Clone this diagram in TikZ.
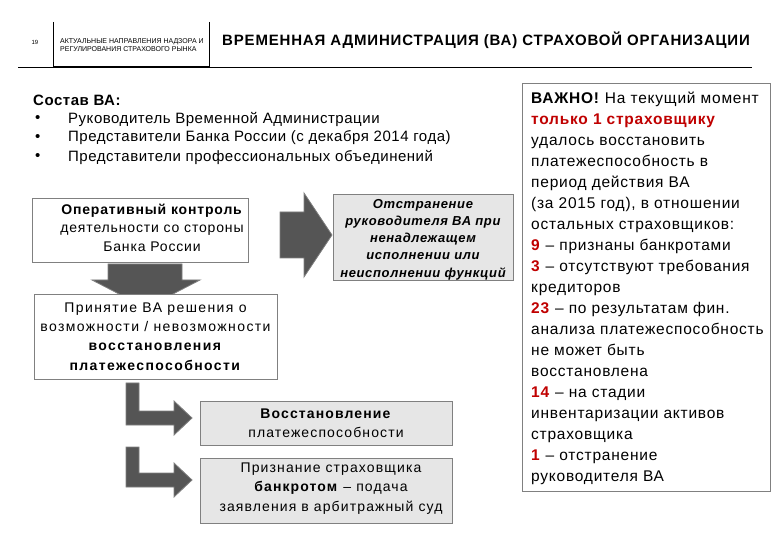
\documentclass[tikz,border=0pt]{standalone}
\usepackage{fontspec}
\setmainfont{Liberation Sans}
\definecolor{dred}{HTML}{C00000}
\definecolor{arrowfill}{HTML}{555555}
\definecolor{arrowline}{HTML}{808080}
\definecolor{boxgray}{HTML}{E6E6E6}
\definecolor{boxline}{HTML}{808080}
\newcommand{\fsz}[3]{\fontsize{#1}{#2}\selectfont\addfontfeature{LetterSpace=#3}}
\tikzset{
  wbox/.style={draw=boxline, line width=0.8pt, fill=white, inner sep=0pt, align=center},
  gbox/.style={draw=boxline, line width=0.8pt, fill=boxgray, inner sep=0pt, align=center},
  boxtext/.style={inner sep=0pt, align=center},
  blockarrow/.style={fill=arrowfill, draw=arrowline, line width=0.8pt},
  listtext/.style={anchor=west, inner sep=0pt, font=\fsz{15}{17}{3.5}},
}
\begin{document}
\begin{tikzpicture}[x=1pt,y=-1pt]
\useasboundingbox[fill=white] (0,0) rectangle (780,540);

% header
\node[font=\fontsize{6}{7}\selectfont, inner sep=0pt] (pg) at (35,42) {19};
\coordinate (v1t) at (53,22); \coordinate (v1b) at (53,67);
\coordinate (v2t) at (209,22); \coordinate (v2b) at (209,67);
\coordinate (hl) at (18,67); \coordinate (hr) at (752,67);
\draw[line width=0.8pt] (v1t) -- (v1b);
\draw[line width=0.8pt] (v2t) -- (v2b);
\draw[line width=0.8pt] (hl) -- (hr);
\draw[line width=2pt] (v1b) -- (v2b);
\node[anchor=west, inner sep=0pt, align=left, font=\fontsize{7}{8.5}\selectfont] (sub) at (60,45)
  {АКТУАЛЬНЫЕ НАПРАВЛЕНИЯ НАДЗОРА И\\РЕГУЛИРОВАНИЯ СТРАХОВОГО РЫНКА};
\node[anchor=west, inner sep=0pt, font=\fsz{15}{18}{5.5}\bfseries] (title) at (222,40)
  {ВРЕМЕННАЯ АДМИНИСТРАЦИЯ (ВА) СТРАХОВОЙ ОРГАНИЗАЦИИ};

% composition list
\node[listtext] (comp) at (33,100) {\textbf{Состав ВА:}};
\node[listtext] (bu1) at (35,119) {•};
\node[listtext] (bu2) at (35,138) {•};
\node[listtext] (bu3) at (35,157) {•};
\node[listtext] (li1) at (68,119) {Руководитель Временной Администрации};
\node[listtext] (li2) at (68,138) {Представители Банка России (с декабря 2014 года)};
\node[listtext] (li3) at (68,157) {Представители профессиональных объединений};

% block arrows
\draw[blockarrow] (280,212) -- (304,212) -- (304,193) -- (332,235) -- (304,277) -- (304,258) -- (280,258) -- cycle;
\draw[blockarrow] (108,264) -- (182,264) -- (182,280) -- (200,280) -- (146,308) -- (92,280) -- (108,280) -- cycle;
\draw[blockarrow] (126,383) -- (139,383) -- (139,411) -- (174,411) -- (174,401) -- (192,418) -- (174,435) -- (174,425) -- (126,425) -- cycle;
\draw[blockarrow] (126,447) -- (139,447) -- (139,473) -- (174,473) -- (174,463) -- (192,480) -- (174,497) -- (174,487) -- (126,487) -- cycle;

% boxes
\node[wbox, minimum width=216pt, minimum height=64pt] (b1) at (140,230) {};
\node[boxtext, font=\fsz{14}{18.5}{6}] (b1t) at (152,227.5)
  {\textbf{Оперативный контроль}\\деятельности со стороны\\Банка России};
\node[gbox, minimum width=180pt, minimum height=86pt] (b2) at (423,237) {};
\node[boxtext, font=\fsz{13}{17.2}{5}\bfseries\itshape] (b2t) at (423,239.5)
  {Отстранение\\руководителя ВА при\\ненадлежащем\\исполнении или\\неисполнении функций};
\node[wbox, minimum width=243pt, minimum height=85pt, font=\fsz{14}{19.3}{10}] (b3) at (155.5,336.5)
  {Принятие ВА решения о\\возможности / невозможности\\\textbf{восстановления}\\\textbf{платежеспособности}};
\node[gbox, minimum width=252pt, minimum height=44pt, font=\fsz{14}{19}{8}] (b4) at (326,423)
  {\textbf{Восстановление}\\платежеспособности};
\node[gbox, minimum width=252pt, minimum height=65pt] (b5) at (326,490.5) {};
\node[boxtext, font=\fsz{14}{19.3}{8}] (b5t) at (331,488.5)
  {Признание страховщика\\\textbf{банкротом} – подача\\заявления в арбитражный суд};

% right info box
\node[draw=boxline, line width=0.8pt, fill=white, minimum width=248pt, minimum height=408pt, inner sep=0pt] (info) at (646,287) {};
\node[anchor=north west, inner sep=0pt, align=left, font=\fsz{15.5}{21}{5}] (infotext) at (531,92)
  {\textbf{ВАЖНО!} На текущий момент\\
   \textcolor{dred}{\textbf{только 1 страховщику}}\\
   удалось восстановить\\
   платежеспособность в\\
   период действия ВА\\
   (за 2015 год), в отношении\\
   остальных страховщиков:\\
   \textcolor{dred}{\textbf{9}} – признаны банкротами\\
   \textcolor{dred}{\textbf{3}} – отсутствуют требования\\
   кредиторов\\
   \textcolor{dred}{\textbf{23}} – по результатам фин.\\
   анализа платежеспособность\\
   не может быть\\
   восстановлена\\
   \textcolor{dred}{\textbf{14}} – на стадии\\
   инвентаризации активов\\
   страховщика\\
   \textcolor{dred}{\textbf{1}} – отстранение\\
   руководителя ВА};
\end{tikzpicture}
\end{document}
